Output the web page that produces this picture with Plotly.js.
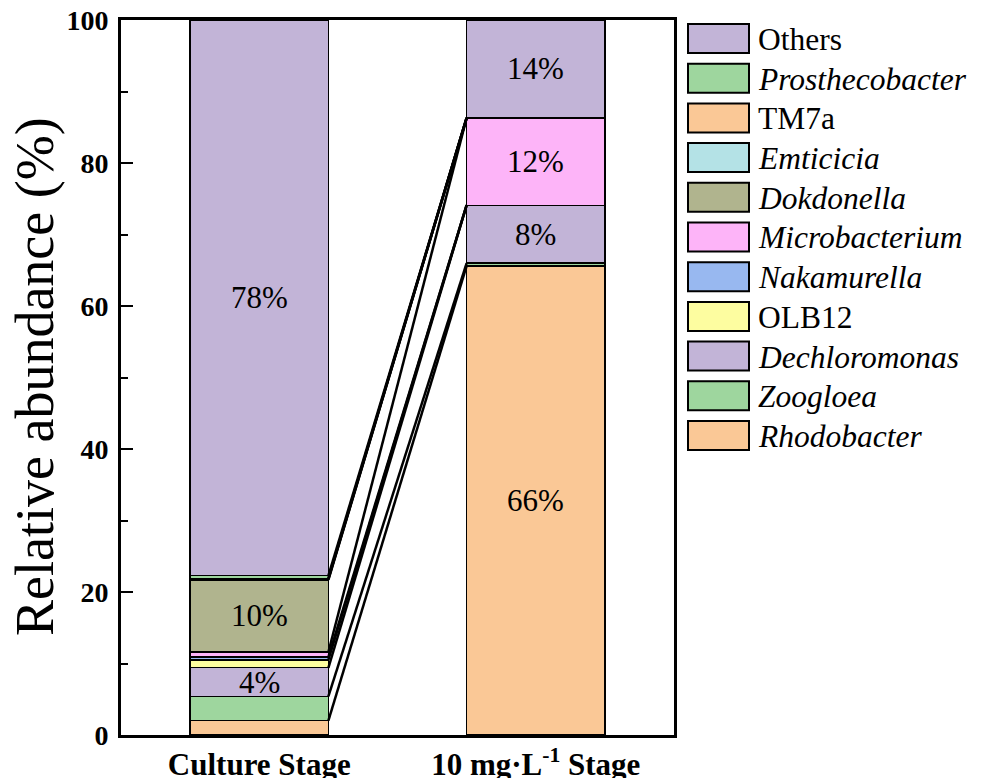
<!DOCTYPE html>
<html><head><meta charset="utf-8">
<script src="https://cdn.plot.ly/plotly-3.0.1.min.js"></script>
<style>html,body{margin:0;padding:0;background:#fff}#chart{width:981px;height:778px}</style>
</head><body><div id="chart"></div>
<script>
// ---- data ----
const stages = ["Culture Stage", "10 mg·L<sup>-1</sup> Stage"];
const taxa = ["Rhodobacter","Zoogloea","Dechloromonas","OLB12","Nakamurella","Microbacterium","Dokdonella","Emticicia","TM7a","Prosthecobacter","Others"];
const italicTaxa = [true,true,true,false,true,true,true,true,false,true,false];
const rhodobacter     = [2.0, 65.6];
const zoogloea        = [3.4, 0.4];
const dechloromonas   = [4.0, 8.1];
const olb12           = [1.1, 0.0];
const nakamurella     = [0.4, 0.0];
const microbacterium  = [0.7, 12.2];
const dokdonella      = [10.1, 0.0];
const emticicia       = [0.1, 0.0];
const tm7a            = [0.1, 0.0];
const prosthecobacter = [0.4, 0.0];
const others          = [77.7, 13.7];
const seriesValues = [rhodobacter, zoogloea, dechloromonas, olb12, nakamurella, microbacterium, dokdonella, emticicia, tm7a, prosthecobacter, others];
const segmentLabels = [["","66%"],["",""],["4%","8%"],["",""],["",""],["","12%"],["10%",""],["",""],["",""],["",""],["78%","14%"]];
const colors = ["#fac896","#9ed69e","#c2b4d7","#fdfda0","#98b8f0","#fdb4f8","#b0b48e","#b4e2e6","#fac896","#9ed69e","#c2b4d7"];

// ---- layout geometry ----
const W = 981, H = 778;
const L = 121, R = 674, T = 20, B = 735;
const px = x => (x - L) / (R - L);
const py = y => (B - y) / (B - T);
const FONT = "Liberation Serif, Times New Roman, serif";
const barWidth = 0.5;

const traces = [];
const annotations = [];
const shapes = [];
const xs = stages.map((_, i) => i);

seriesValues.forEach((vals, k) => {
  traces.push({
    type: "bar", x: xs, y: vals, width: barWidth, name: taxa[k],
    marker: {color: colors[k], line: {color: "#000", width: 1.3}},
    showlegend: false, hoverinfo: "skip"
  });
});

// cumulative tops
const cum = stages.map(() => 0);
const cumTops = [];
seriesValues.forEach((vals, k) => {
  const tops = [];
  vals.forEach((v, i) => {
    const base = cum[i];
    cum[i] += v;
    tops.push(cum[i]);
    const lab = segmentLabels[k][i];
    if (lab) {
      annotations.push({x: i, y: base + v / 2, xref: "x", yref: "y", text: lab, showarrow: false,
        font: {family: FONT, size: 31, color: "#000"}, xanchor: "center", yanchor: "middle"});
    }
  });
  cumTops.push(tops);
});

// connecting lines between bars (for each boundary below Others)
for (let k = 0; k < seriesValues.length - 1; k++) {
  traces.push({
    type: "scatter", mode: "lines",
    x: [0 + barWidth / 2, 1 - barWidth / 2],
    y: [cumTops[k][0], cumTops[k][1]],
    line: {color: "#000", width: 2.5}, showlegend: false, hoverinfo: "skip"
  });
}

// custom legend
const rowH = 39.7, boxTop0 = 24, boxH = 29, boxL = 688, boxR = 749, textX = 756;
for (let r = 0; r < taxa.length; r++) {
  const k = taxa.length - 1 - r;
  const top = boxTop0 + r * rowH;
  shapes.push({type: "rect", xref: "paper", yref: "paper",
    x0: px(boxL), x1: px(boxR), y0: py(top + boxH), y1: py(top),
    fillcolor: colors[k], line: {color: "#000", width: 2}});
  annotations.push({xref: "paper", yref: "paper", x: px(textX), y: py(top + boxH / 2 + 1),
    xanchor: "left", yanchor: "middle", showarrow: false,
    text: italicTaxa[k] ? "<i>" + taxa[k] + "</i>" : taxa[k],
    font: {family: FONT, size: 31.5, color: "#000"}});
}

// y axis title
annotations.push({xref: "paper", yref: "paper", x: px(35), y: py(377), xanchor: "center", yanchor: "middle",
  textangle: -90, showarrow: false, text: "Relative abundance (%)",
  font: {family: FONT, size: 54, color: "#000"}});

const layout = {
  width: W, height: H,
  margin: {l: L, r: W - R, t: T, b: H - B, pad: 0},
  paper_bgcolor: "#fff", plot_bgcolor: "#fff",
  barmode: "stack",
  font: {family: FONT, color: "#000"},
  xaxis: {range: [-0.5, 1.5], tickvals: xs, ticktext: stages, ticks: "", showgrid: false, zeroline: false,
    showline: true, mirror: true, linecolor: "#000", linewidth: 3,
    tickfont: {family: FONT, size: 31, color: "#000", weight: "bold"}, fixedrange: true},
  yaxis: {range: [0, 100], tickvals: [0,20,40,60,80,100], ticks: "inside", ticklen: 12, tickwidth: 2, tickcolor: "#000",
    minor: {tickvals: [10,30,50,70,90], ticks: "inside", ticklen: 7, tickwidth: 2, tickcolor: "#000"},
    showgrid: false, zeroline: false, showline: true, mirror: true, linecolor: "#000", linewidth: 3,
    tickfont: {family: FONT, size: 28, color: "#000", weight: "bold"}, ticklabelstandoff: 4, fixedrange: true},
  showlegend: false,
  shapes: shapes,
  annotations: annotations
};

Plotly.newPlot("chart", traces, layout, {displayModeBar: false, staticPlot: true});
</script>
</body></html>
